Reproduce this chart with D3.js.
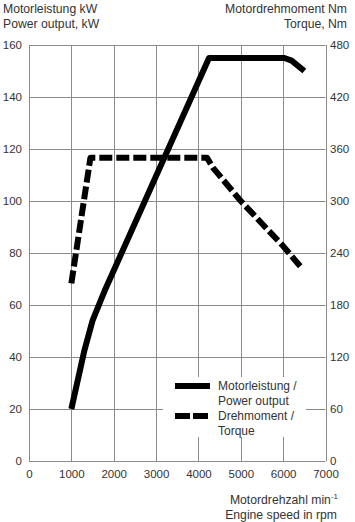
<!DOCTYPE html>
<html>
<head>
<meta charset="utf-8">
<script src="https://cdnjs.cloudflare.com/ajax/libs/d3/7.8.5/d3.min.js"></script>
<style>
  body { margin: 0; background: #fff; }
  svg text { font-family: "Liberation Sans", Arial, sans-serif; fill: #333; }
</style>
</head>
<body>
<svg id="chart"></svg>
<script>
var width = 355, height = 522;
var margin = {top: 45, right: 30, bottom: 61, left: 29};

// data
var rpm_ticks = [0, 1000, 2000, 3000, 4000, 5000, 6000, 7000];
var power_ticks = [0, 20, 40, 60, 80, 100, 120, 140, 160];
var torque_ticks = [0, 60, 120, 180, 240, 300, 360, 420, 480];

var power_rpm = [1000, 1300, 1500, 1800, 4250, 6030, 6200, 6500];
var power_kw = [20, 42, 54, 66, 155, 155, 154, 150];

var torque_rpm = [1000, 1450, 4200, 4350, 5000, 6000, 6450];
var torque_nm = [205, 350, 350, 338, 300, 248, 222];

var legend_labels = [["Motorleistung /", "Power output"], ["Drehmoment /", "Torque"]];

var svg = d3.select("#chart").attr("width", width).attr("height", height);

var x = d3.scaleLinear().domain([0, 7000]).range([margin.left, width - margin.right + 0.5]);
var yPower = d3.scaleLinear().domain([0, 160]).range([height - margin.bottom, margin.top]);
var yTorque = d3.scaleLinear().domain([0, 480]).range([height - margin.bottom, margin.top]);

var gridColor = "#8a8a8a";

// horizontal grid
svg.append("g")
  .selectAll("line")
  .data(power_ticks)
  .enter().append("line")
  .attr("x1", x(0)).attr("x2", x(7000))
  .attr("y1", function(d) { return Math.round(yPower(d)) + 0.5; })
  .attr("y2", function(d) { return Math.round(yPower(d)) + 0.5; })
  .attr("stroke", gridColor).attr("stroke-width", 1);

// vertical grid
svg.append("g")
  .selectAll("line")
  .data(rpm_ticks)
  .enter().append("line")
  .attr("x1", function(d) { return Math.round(x(d)) + 0.5; })
  .attr("x2", function(d) { return Math.round(x(d)) + 0.5; })
  .attr("y1", yPower(0)).attr("y2", yPower(160))
  .attr("stroke", gridColor).attr("stroke-width", 1);

// left tick labels
svg.append("g")
  .selectAll("text")
  .data(power_ticks)
  .enter().append("text")
  .attr("x", 22)
  .attr("y", function(d) { return yPower(d); })
  .attr("dy", "0.35em")
  .attr("text-anchor", "end")
  .style("font-size", "11.5px")
  .text(function(d) { return d; });

// right tick labels
svg.append("g")
  .selectAll("text")
  .data(torque_ticks)
  .enter().append("text")
  .attr("x", 330)
  .attr("y", function(d) { return yTorque(d); })
  .attr("dy", "0.35em")
  .style("font-size", "11.5px")
  .text(function(d) { return d; });

// bottom tick labels
svg.append("g")
  .selectAll("text")
  .data(rpm_ticks)
  .enter().append("text")
  .attr("x", function(d) { return x(d) + 0.5; })
  .attr("y", 478)
  .attr("text-anchor", "middle")
  .style("font-size", "11.5px")
  .text(function(d) { return d; });

// axis titles
var titles = svg.append("g").style("font-size", "12.2px");
titles.append("text").attr("x", 3).attr("y", 13).text("Motorleistung kW");
titles.append("text").attr("x", 3).attr("y", 28).text("Power output, kW");
titles.append("text").attr("x", 347).attr("y", 13).attr("text-anchor", "end").text("Motordrehmoment Nm");
titles.append("text").attr("x", 347).attr("y", 28).attr("text-anchor", "end").text("Torque, Nm");

var xt = titles.append("text").attr("x", 338).attr("y", 504).attr("text-anchor", "end");
xt.append("tspan").text("Motordrehzahl min");
xt.append("tspan").attr("dy", -5).style("font-size", "8px").text("-1");
titles.append("text").attr("x", 337).attr("y", 519).attr("text-anchor", "end").text("Engine speed in rpm");

// lines
var power_data = power_rpm.map(function(r, i) { return [r, power_kw[i]]; });
var torque_data = torque_rpm.map(function(r, i) { return [r, torque_nm[i]]; });

var powerLine = d3.line()
  .x(function(d) { return x(d[0]); })
  .y(function(d) { return yPower(d[1]); });

var torqueLine = d3.line()
  .x(function(d) { return x(d[0]); })
  .y(function(d) { return yTorque(d[1]); });

svg.append("path")
  .attr("d", powerLine(power_data))
  .attr("fill", "none")
  .attr("stroke", "#000")
  .attr("stroke-width", 6)
  .attr("stroke-linejoin", "round");

svg.append("path")
  .attr("d", torqueLine(torque_data))
  .attr("fill", "none")
  .attr("stroke", "#000")
  .attr("stroke-width", 6)
  .attr("stroke-dasharray", "13,4")
  .attr("stroke-linejoin", "round");

// legend
var legend = svg.append("g");
legend.append("rect")
  .attr("x", 163).attr("y", 377).attr("width", 143).attr("height", 60)
  .attr("fill", "#fff");

legend_labels.forEach(function(lbl, i) {
  var cy = 386 + i * 30;
  legend.append("line")
    .attr("x1", 175).attr("x2", 210)
    .attr("y1", cy).attr("y2", cy)
    .attr("stroke", "#000").attr("stroke-width", 6)
    .attr("stroke-dasharray", i == 0 ? null : "15,3");
  legend.append("text")
    .attr("x", 218).attr("y", cy).attr("dy", "0.35em")
    .style("font-size", "12px")
    .text(lbl[0]);
  legend.append("text")
    .attr("x", 218).attr("y", cy + 15).attr("dy", "0.35em")
    .style("font-size", "12px")
    .text(lbl[1]);
});
</script>
</body>
</html>
